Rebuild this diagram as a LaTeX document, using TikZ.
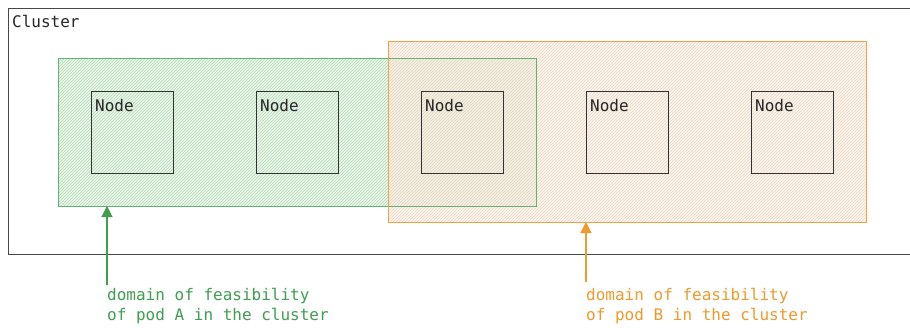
\documentclass[tikz,border=0pt]{standalone}
\usepackage{fontspec}
\setmonofont{DejaVu Sans Mono}
\usetikzlibrary{patterns,arrows.meta}
\definecolor{gA}{HTML}{3F9E50}
\definecolor{oB}{HTML}{EE9A2E}
\definecolor{gfill}{HTML}{E6F3E6}
\definecolor{ofill}{HTML}{FBEFE4}
\definecolor{gpat}{HTML}{B3DCB7}
\definecolor{opat}{HTML}{EAD3BD}
\definecolor{edge}{HTML}{333333}
\tikzset{
  txt/.style={font=\ttfamily\fontsize{16}{20}\selectfont, inner sep=0pt, anchor=north west, align=left},
  nodebox/.style={draw=edge, line width=1.1pt, minimum width=82pt, minimum height=82pt, inner sep=0pt},
  arr/.style={line width=1.1pt, -{Triangle[length=11pt,width=11pt]}},
}
\begin{document}
\begin{tikzpicture}[x=1pt,y=-1pt]
\path[fill=white] (0,0) rectangle (910,327);
\useasboundingbox (0,0) rectangle (910,327);
% cluster (right edge lies just past the picture)
\begin{scope}
\clip (0,0) rectangle (910,327);
\draw[draw=edge!90, line width=1.1pt] (8.5,8.5) rectangle (912,254.5);
\end{scope}
\node[txt, text=black!85] (cl) at (12,15) {Cluster};
% domain A
\fill[gfill, fill opacity=0.8] (58,58) rectangle (536,206);
\fill[pattern=north east lines, pattern color=gpat] (58,58) rectangle (536,206);
% domain B
\fill[ofill, fill opacity=0.6] (388,41) rectangle (866,222);
\fill[pattern=north east lines, pattern color=opat, opacity=0.8] (388,41) rectangle (866,222);
\draw[gA!80, line width=1pt] (58,58) rectangle (536,206);
\draw[oB!90, line width=0.9pt] (388.5,41.5) rectangle (866,222);
\coordinate (dA) at (58,58);
\coordinate (dB) at (388,41);
% nodes
\foreach \i/\x in {1/91,2/256,3/421,4/586,5/751}{
  \node[nodebox, anchor=north west] (n\i) at (\x,91) {};
  \node[txt, text=black!85] (l\i) at ([xshift=4pt,yshift=-8pt]n\i.north west) {Node};
}
% labels
\node[txt, text=gA] (tA) at (107,288) {domain of feasibility\\of pod A in the cluster};
\node[txt, text=oB] (tB) at (586,288) {domain of feasibility\\of pod B in the cluster};
\coordinate (aA) at (107,206);
\coordinate (aB) at (586,222);
\draw[arr, gA] ([yshift=3pt]tA.north west) -- (aA);
\draw[arr, oB] ([yshift=6pt]tB.north west) -- (aB);
\end{tikzpicture}
\end{document}
